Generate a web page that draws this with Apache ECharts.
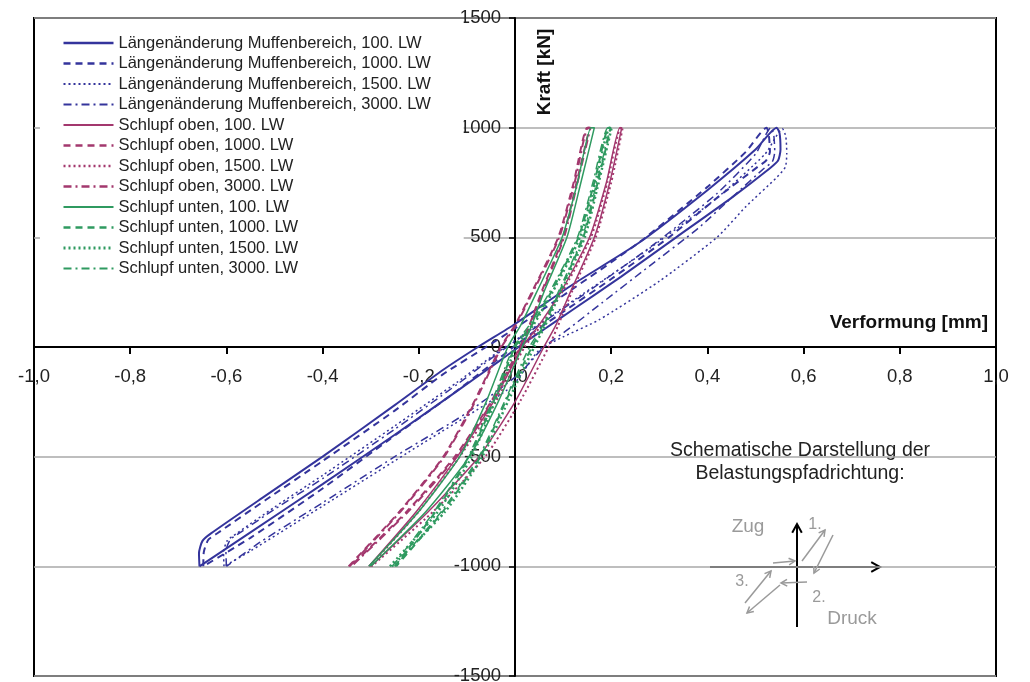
<!DOCTYPE html>
<html>
<head>
<meta charset="utf-8">
<script src="https://cdn.jsdelivr.net/npm/echarts/dist/echarts.min.js"></script>
<style>
  html, body { margin: 0; padding: 0; background: #fff; }
  #chart { width: 1030px; height: 682px; }
</style>
</head>
<body>
<div id="chart"></div>
<script>
// axis ranges
const xMin = -1, xMax = 1, xStep = 0.2;
const yMin = -1500, yMax = 1500, yStep = 500;

// Längenänderung Muffenbereich (blue loops), [mm, kN]
const muffe100 = [[-0.656,-1000],[-0.657,-940],[-0.650,-885],[-0.632,-850],[-0.52,-680],[-0.40,-500],[-0.25,-265],[-0.15,-105],[-0.077,0],[0,105],[0.12,285],[0.257,474],[0.40,715],[0.50,900],[0.544,1000],[0.550,975],[0.552,900],[0.547,850],[0.530,815],[0.45,680],[0.335,500],[0.22,320],[0.12,170],[0.06,80],[0.02,20],[-0.03,-60],[-0.12,-200],[-0.25,-400],[-0.40,-625],[-0.55,-845],[-0.656,-1000]];
const muffe1000 = [[-0.648,-1000],[-0.647,-935],[-0.638,-880],[-0.618,-848],[-0.52,-700],[-0.40,-520],[-0.25,-290],[-0.15,-125],[-0.06,0],[0,85],[0.12,265],[0.26,480],[0.40,730],[0.48,890],[0.523,1000],[0.528,960],[0.530,890],[0.522,850],[0.505,822],[0.42,680],[0.32,500],[0.20,310],[0.10,160],[0.04,70],[0.0,5],[-0.05,-80],[-0.13,-215],[-0.26,-420],[-0.40,-645],[-0.55,-870],[-0.648,-1000]];
const muffe1500 = [[-0.605,-1000],[-0.606,-935],[-0.598,-882],[-0.580,-852],[-0.50,-730],[-0.40,-585],[-0.25,-360],[-0.12,-160],[-0.04,-30],[0.02,60],[0.14,240],[0.28,450],[0.42,680],[0.52,880],[0.556,995],[0.563,960],[0.565,880],[0.562,820],[0.545,775],[0.48,640],[0.42,500],[0.30,300],[0.174,123],[0.10,46],[0.05,-14],[-0.008,-182],[-0.20,-450],[-0.40,-725],[-0.55,-930],[-0.605,-1000]];
const muffe3000 = [[-0.600,-1000],[-0.601,-930],[-0.592,-878],[-0.574,-850],[-0.50,-740],[-0.40,-600],[-0.25,-375],[-0.12,-170],[-0.03,-20],[0.03,70],[0.15,250],[0.29,470],[0.42,700],[0.50,880],[0.532,1000],[0.538,965],[0.540,890],[0.535,845],[0.518,815],[0.46,700],[0.38,540],[0.28,370],[0.18,200],[0.11,80],[0.06,0],[0.01,-120],[-0.10,-300],[-0.25,-500],[-0.40,-710],[-0.53,-890],[-0.600,-1000]];

// Schlupf oben (purple)
const obenLW100 = [[-0.304,-1000],[-0.205,-750],[-0.12,-500],[-0.045,-250],[0.015,0],[0.05,100],[0.095,250],[0.155,500],[0.19,750],[0.218,1000],[0.222,1000],[0.197,750],[0.165,500],[0.115,250],[0.085,100],[0.06,0],[0.0,-250],[-0.075,-500],[-0.18,-750],[-0.30,-1000]];
const obenLW1000 = [[-0.346,-1000],[-0.24,-750],[-0.149,-500],[-0.085,-250],[-0.03,0],[0.0,100],[0.035,250],[0.09,500],[0.122,750],[0.150,1000],[0.155,1000],[0.128,750],[0.10,500],[0.055,250],[0.03,100],[0.01,0],[-0.05,-250],[-0.125,-500],[-0.225,-750],[-0.342,-1000]];
const obenLW1500 = [[-0.302,-1000],[-0.20,-750],[-0.115,-500],[-0.04,-250],[0.02,0],[0.055,100],[0.098,250],[0.158,500],[0.192,750],[0.220,1000],[0.224,1000],[0.20,750],[0.168,500],[0.118,250],[0.09,100],[0.07,0],[0.01,-250],[-0.062,-500],[-0.17,-750],[-0.298,-1000]];
const obenLW3000 = [[-0.344,-1000],[-0.238,-750],[-0.147,-500],[-0.083,-250],[-0.028,0],[0.002,100],[0.037,250],[0.092,500],[0.124,750],[0.152,1000],[0.157,1000],[0.13,750],[0.102,500],[0.057,250],[0.032,100],[0.012,0],[-0.048,-250],[-0.122,-500],[-0.222,-750],[-0.34,-1000]];

// Schlupf unten (green)
const untenLW100 = [[-0.304,-1000],[-0.20,-750],[-0.115,-500],[-0.06,-250],[-0.015,0],[0.012,100],[0.045,250],[0.098,500],[0.13,750],[0.158,1000],[0.165,1000],[0.137,750],[0.108,500],[0.06,250],[0.035,100],[0.015,0],[-0.035,-250],[-0.095,-500],[-0.185,-750],[-0.30,-1000]];
const untenLW1000 = [[-0.25,-1000],[-0.165,-750],[-0.095,-500],[-0.045,-250],[0.0,0],[0.035,100],[0.075,250],[0.132,500],[0.165,750],[0.195,1000],[0.199,1000],[0.172,750],[0.142,500],[0.092,250],[0.06,100],[0.035,0],[-0.02,-250],[-0.072,-500],[-0.15,-750],[-0.247,-1000]];
const untenLW1500 = [[-0.26,-1000],[-0.16,-750],[-0.09,-500],[-0.042,-250],[0.003,0],[0.038,100],[0.078,250],[0.135,500],[0.167,750],[0.197,1000],[0.201,1000],[0.174,750],[0.145,500],[0.095,250],[0.063,100],[0.04,0],[-0.015,-250],[-0.068,-500],[-0.145,-750],[-0.256,-1000]];
const untenLW3000 = [[-0.255,-1000],[-0.168,-750],[-0.097,-500],[-0.048,-250],[-0.003,0],[0.03,100],[0.072,250],[0.13,500],[0.162,750],[0.193,1000],[0.198,1000],[0.17,750],[0.14,500],[0.09,250],[0.058,100],[0.03,0],[-0.022,-250],[-0.075,-500],[-0.153,-750],[-0.25,-1000]];

const names = [
  'Längenänderung Muffenbereich, 100. LW',
  'Längenänderung Muffenbereich, 1000. LW',
  'Längenänderung Muffenbereich, 1500. LW',
  'Längenänderung Muffenbereich, 3000. LW',
  'Schlupf oben, 100. LW',
  'Schlupf oben, 1000. LW',
  'Schlupf oben, 1500. LW',
  'Schlupf oben, 3000. LW',
  'Schlupf unten, 100. LW',
  'Schlupf unten, 1000. LW',
  'Schlupf unten, 1500. LW',
  'Schlupf unten, 3000. LW'
];
const curves = [muffe100, muffe1000, muffe1500, muffe3000,
  obenLW100, obenLW1000, obenLW1500, obenLW3000,
  untenLW100, untenLW1000, untenLW1500, untenLW3000];

const BLUE = '#34349c', PURPLE = '#a3386e', GREEN = '#2f9a60';
const colors = [BLUE, BLUE, BLUE, BLUE, PURPLE, PURPLE, PURPLE, PURPLE, GREEN, GREEN, GREEN, GREEN];
const dashes = ['solid', [7, 5], [2, 3], [8, 4, 2, 4]];
const widths = [2, 2, 1.5, 1.5, 1.5, 2, 2, 2, 1.5, 2, 2.5, 1.5];

const FONT = '"Liberation Sans", Arial, sans-serif';

// plot box in pixels
const gridLeft = 34, gridRight = 34, gridTop = 18, gridBottom = 6;
const plotW = 1030 - gridLeft - gridRight, plotH = 682 - gridTop - gridBottom;

function arrow(x1, y1, x2, y2, color, w, len) {
  const a = Math.atan2(y2 - y1, x2 - x1), s = 0.5;
  return [
    { type: 'line', shape: { x1, y1, x2, y2 }, style: { stroke: color, lineWidth: w } },
    { type: 'polyline', shape: { points: [
        [x2 - len * Math.cos(a - s), y2 - len * Math.sin(a - s)],
        [x2, y2],
        [x2 - len * Math.cos(a + s), y2 - len * Math.sin(a + s)]] },
      style: { stroke: color, lineWidth: w, fill: null } }
  ];
}

function label(text, x, y, size, color) {
  return { type: 'text', x, y, style: {
    text, font: size + 'px ' + FONT, fill: color, align: 'center', verticalAlign: 'middle'
  } };
}

const GRAY = '#9a9a9a';
const sketch = [].concat(
  arrow(710, 567, 880, 567, '#000', 2, 10),
  arrow(797, 627, 797, 524, '#000', 2, 10),
  arrow(773, 563, 795, 561, GRAY, 1.5, 7),
  arrow(802, 561, 825, 530, GRAY, 1.5, 7),
  arrow(833, 535, 814, 573, GRAY, 1.5, 7),
  arrow(807, 582, 781, 583, GRAY, 1.5, 7),
  arrow(780, 585, 747, 613, GRAY, 1.5, 7),
  arrow(745, 603, 771, 571, GRAY, 1.5, 7),
  [
    label('Zug', 748, 527, 19, GRAY),
    label('1.', 815, 525, 16, GRAY),
    label('3.', 742, 582, 16, GRAY),
    label('2.', 819, 598, 16, GRAY),
    label('Druck', 852, 619, 19, GRAY),
    label('Schematische Darstellung der', 800, 451, 19.5, '#222'),
    label('Belastungspfadrichtung:', 800, 474, 19.5, '#222'),
    { type: 'text', x: 988, y: 323, style: { text: 'Verformung [mm]', font: 'bold 19px ' + FONT, fill: '#111', align: 'right', verticalAlign: 'middle' } },
    { type: 'text', x: 545, y: 72, rotation: Math.PI / 2, style: { text: 'Kraft [kN]', font: 'bold 19px ' + FONT, fill: '#111', align: 'center', verticalAlign: 'middle' } }
  ]
);

const chart = echarts.init(document.getElementById('chart'), null, { renderer: 'canvas' });
chart.setOption({
  animation: false,
  backgroundColor: '#fff',
  textStyle: { fontFamily: FONT },
  grid: {
    left: gridLeft, right: gridRight, top: gridTop, bottom: gridBottom,
    outerBoundsMode: 'none', containLabel: false,
    show: true, borderColor: '#000', borderWidth: 2, backgroundColor: '#fff'
  },
  legend: {
    orient: 'vertical', left: 40, top: 20,
    padding: [14, 33, 12, 22],
    backgroundColor: '#fff',
    itemWidth: 50, itemHeight: 14, itemGap: 2.5,
    selectedMode: false,
    itemStyle: { opacity: 0 },
    textStyle: { fontSize: 16.5, lineHeight: 18, color: '#222', fontFamily: FONT },
    data: names.map((n, i) => ({ name: n, lineStyle: { width: widths[i] + 0.5 } }))
  },
  xAxis: {
    type: 'value', min: xMin, max: xMax, interval: xStep,
    position: 'bottom',
    // sit the axis on y = 0 (middle of the symmetric range)
    offset: -(plotH * (0 - yMin) / (yMax - yMin)),
    axisLine: { onZero: false, lineStyle: { color: '#000', width: 2 } },
    axisTick: { show: true, length: 7, lineStyle: { color: '#000', width: 2 } },
    axisLabel: {
      margin: 20, fontSize: 18.5, color: '#222', fontFamily: FONT,
      showMinLabel: true, showMaxLabel: true, hideOverlap: false,
      formatter: v => (Math.abs(v) < 1e-9 ? '0,0' : v.toFixed(1).replace('.', ','))
    },
    splitLine: { show: false }
  },
  yAxis: {
    type: 'value', min: yMin, max: yMax, interval: yStep,
    position: 'left',
    offset: -(plotW * (0 - xMin) / (xMax - xMin)),
    axisLine: { onZero: false, lineStyle: { color: '#000', width: 2 } },
    axisTick: { show: true, length: 6, lineStyle: { color: '#000', width: 1.5 } },
    axisLabel: {
      margin: 14, fontSize: 18.5, color: '#222', fontFamily: FONT,
      showMinLabel: true, showMaxLabel: true, hideOverlap: false,
      formatter: v => String(v)
    },
    splitLine: { show: true, lineStyle: { color: '#a8a8a8', width: 1.5 } }
  },
  series: names.map((n, i) => ({
    name: n,
    type: 'line',
    data: curves[i],
    symbol: 'none',
    smooth: 0.2,
    lineStyle: { color: colors[i], width: widths[i], type: dashes[i % 4] },
    itemStyle: { color: colors[i] }
  })),
  graphic: sketch
});
</script>
</body>
</html>
